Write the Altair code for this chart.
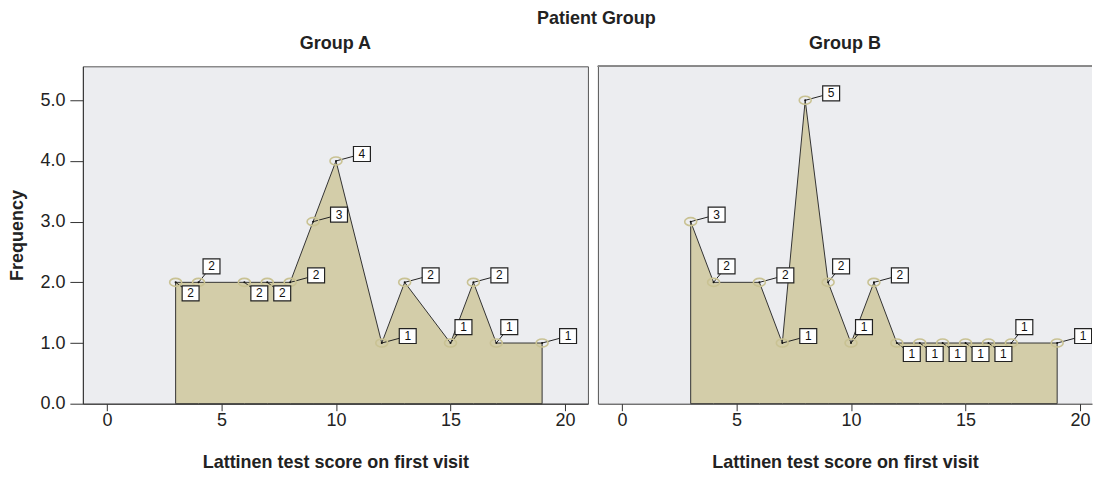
import altair as alt
import pandas as pd

# ---- data ----
a_score = [3, 4, 6, 7, 8, 9, 10, 12, 13, 15, 16, 17, 19]
a_freq = [2, 2, 2, 2, 2, 3, 4, 1, 2, 1, 2, 1, 1]
a_place = ["D", "U", "D", "D", "R", "R", "R", "R", "R", "U", "R", "U", "R"]

b_score = [3, 4, 6, 7, 8, 9, 10, 11, 12, 13, 14, 15, 16, 17, 19]
b_freq = [3, 2, 2, 1, 5, 2, 1, 2, 1, 1, 1, 1, 1, 1, 1]
b_place = ["R", "U", "R", "R", "R", "U", "U", "R", "D", "D", "D", "D", "D", "U", "R"]

x_ticks = [0, 5, 10, 15, 20]
y_ticks = [0, 1, 2, 3, 4, 5]

groups = ["Group A", "Group B"]
x_title = "Lattinen test score on first visit"
y_title = "Frequency"
main_title = "Patient Group"

# ---- styling ----
FONT = "Liberation Sans"
AREA_FILL = "#D3CDA9"
BG = "#ECEDF0"
OFF = {"R": (26, -7), "U": (13, -16), "D": (15, 11)}  # label box offsets in px
ELLIPSE = "M-1.5,0A1.5,1,0,1,0,1.5,0A1.5,1,0,1,0,-1.5,0Z"
BOX = "M-1.13,-1L1.13,-1L1.13,1L-1.13,1Z"

H = 338
XMIN = -1.05
YMAX = 5.56
PX_PER_X = 506 / 22.05


def panel(name, scores, freqs, places, width, show_y):
    xmax = XMIN + width / PX_PER_X
    kx = PX_PER_X
    ky = H / YMAX
    df = pd.DataFrame({"score": scores, "freq": freqs})
    df["lx"] = [s + OFF[p][0] / kx for s, p in zip(scores, places)]
    df["ly"] = [f - OFF[p][1] / ky for f, p in zip(freqs, places)]
    df["lab"] = [str(f) for f in freqs]

    xs = alt.Scale(domain=[XMIN, xmax], nice=False, zero=False)
    ys = alt.Scale(domain=[0, YMAX], nice=False, zero=True)

    xaxis = alt.Axis(
        values=x_ticks, title=x_title, grid=False, tickSize=7,
        tickColor="#333", domainColor="#333", labelFontSize=18,
        labelFont=FONT, labelColor="#222", labelPadding=1,
        titleFont=FONT, titleFontSize=18, titleFontWeight="bold",
        titleColor="#222", titlePadding=24, labelFlush=False,
    )
    if show_y:
        yaxis = alt.Axis(
            values=y_ticks, format=".1f", title=y_title, grid=False,
            tickSize=13, tickColor="#333", domainColor="#333",
            labelFontSize=18, labelFont=FONT, labelColor="#222",
            labelPadding=5, titleFont=FONT, titleFontSize=18,
            titleFontWeight="bold", titleColor="#222", titlePadding=13,
            labelFlush=False,
        )
    else:
        yaxis = alt.Axis(values=y_ticks, labels=False, ticks=False,
                         title=None, grid=False, domainColor="#555")

    base = alt.Chart(df)
    X = alt.X("score:Q", scale=xs, axis=xaxis)
    Y = alt.Y("freq:Q", scale=ys, axis=yaxis)

    area = base.mark_area(fill=AREA_FILL, stroke="#333", strokeWidth=1).encode(x=X, y=Y)
    leaders = base.mark_rule(color="#222", strokeWidth=1).encode(
        x="score:Q", y="freq:Q", x2="lx:Q", y2="ly:Q")
    ell = base.mark_point(shape=ELLIPSE, size=64, filled=False,
                          stroke="#C9C293", strokeWidth=1.6, opacity=1).encode(
        x="score:Q", y="freq:Q")
    dots = base.mark_point(shape="circle", size=4, filled=True,
                           color="#111", opacity=1).encode(x="score:Q", y="freq:Q")
    boxes = base.mark_point(shape=BOX, size=225, filled=True, fill="white",
                            stroke="#222", strokeWidth=1.2, opacity=1,
                            clip=True).encode(x="lx:Q", y="ly:Q")
    texts = base.mark_text(font=FONT, fontSize=12, color="#111",
                           clip=True).encode(x="lx:Q", y="ly:Q", text="lab:N")

    layers = [area, leaders, ell, dots, boxes, texts]
    if not show_y:
        top = alt.Chart(df).mark_rule(color="#888", strokeWidth=1).encode(
            x=alt.value(0), x2=alt.value(width), y=alt.value(0))
        layers.append(top)
    ch = alt.layer(*layers).properties(
        width=width, height=H,
        title=alt.TitleParams(name, font=FONT, fontSize=18, fontWeight="bold",
                              color="#222", anchor="middle", offset=13),
        view=alt.ViewBackground(fill=BG, stroke="#555" if show_y else None),
    )
    return ch


pa = panel(groups[0], a_score, a_freq, a_place, 506, True)
pb = panel(groups[1], b_score, b_freq, b_place, 495, False)

chart = alt.hconcat(pa, pb, spacing=8).properties(
    title=alt.TitleParams(main_title, font=FONT, fontSize=18, fontWeight="bold",
                          color="#222", anchor="middle", offset=7, dx=46),
    padding={"left": 0, "top": 1, "right": 0, "bottom": 0},
).configure_view(strokeWidth=1)

chart.save("out.html", embed_options={"renderer": "svg", "actions": False})
